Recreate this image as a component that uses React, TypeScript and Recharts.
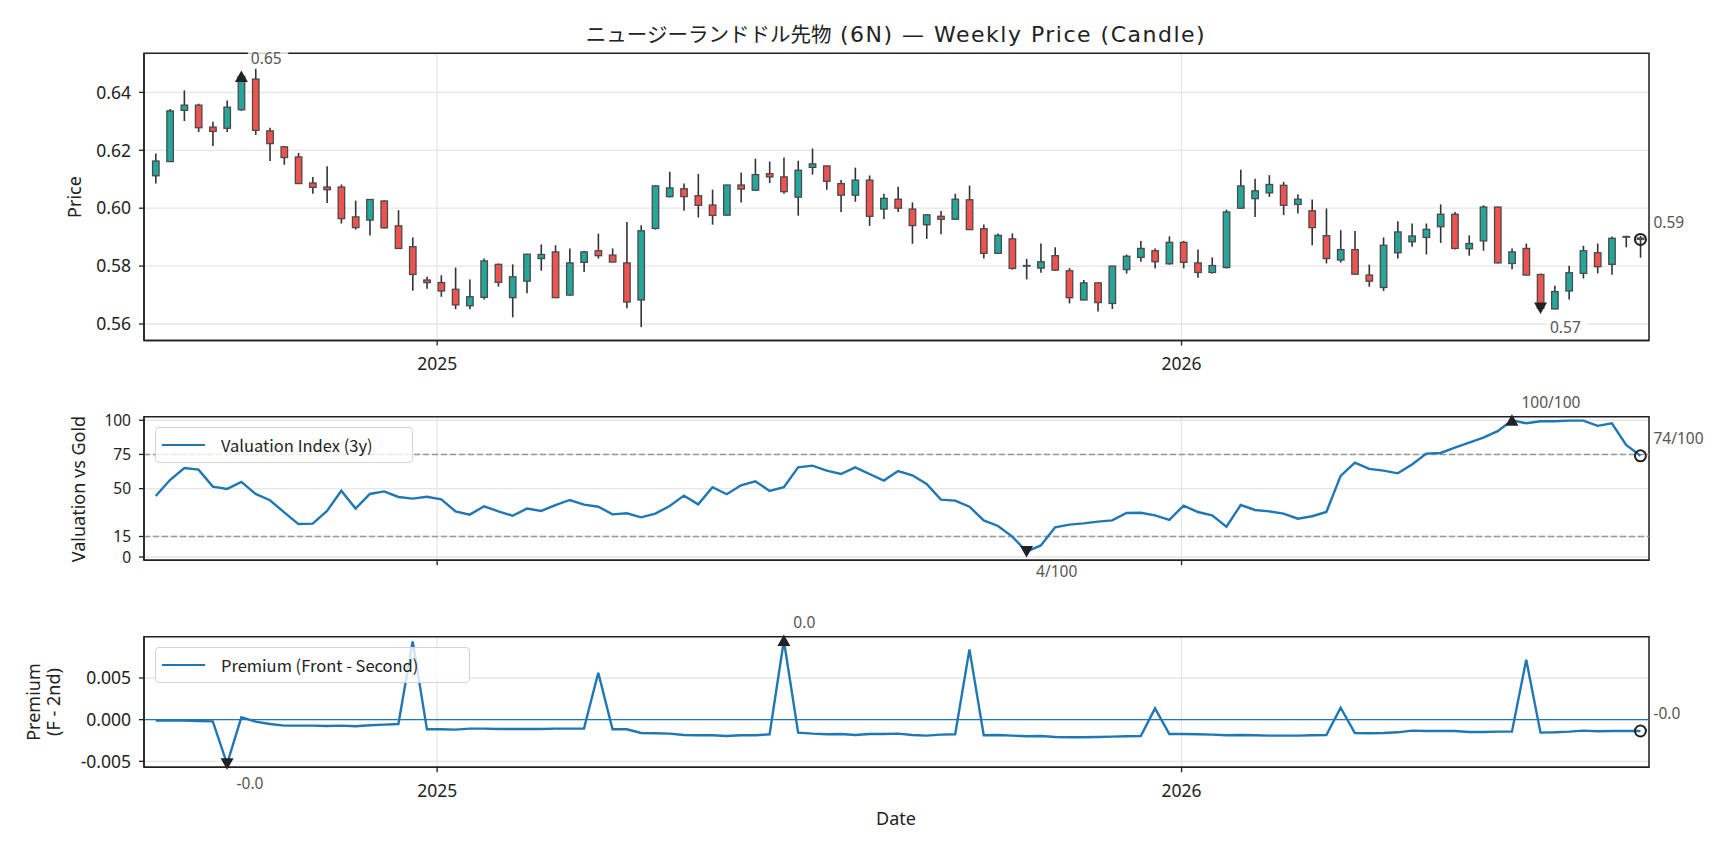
import React from "react";
import { Bar, CartesianGrid, ComposedChart, Line, ReferenceArea, ReferenceLine, Scatter, XAxis, YAxis } from "recharts";

const FONT = "'Noto Sans CJK JP', 'Noto Sans', sans-serif";
const LATIN = "'Noto Sans', 'Noto Sans CJK JP', sans-serif";
const INK = "#222";
const GRID = "#e6e6e6";
const BLUE = "#1f77b4";
const UP = "#26a69a";
const DOWN = "#ef5350";

// weekly bars, first week 2024-08-16
const START = Date.UTC(2024, 7, 16);
const WEEK = 7 * 24 * 3600 * 1000;

const opens = [
  0.6112, 0.6161, 0.6338, 0.6356, 0.628, 0.6276, 0.634, 0.6446, 0.6267, 0.6212,
  0.6177, 0.6087, 0.6073, 0.6073, 0.597, 0.5959, 0.6025, 0.5939, 0.5867, 0.5752,
  0.5743, 0.572, 0.5663, 0.5692, 0.5806, 0.5691, 0.5748, 0.5826, 0.5849, 0.57,
  0.5813, 0.5853, 0.5838, 0.5811, 0.5683, 0.593, 0.604, 0.6067, 0.6043, 0.6011,
  0.5976, 0.608, 0.6062, 0.6119, 0.6108, 0.6038, 0.6141, 0.6146, 0.6085, 0.6045,
  0.6097, 0.5997, 0.6031, 0.5997, 0.5943, 0.5972, 0.5962, 0.6029, 0.5929, 0.5844,
  0.5894, 0.5802, 0.5793, 0.5836, 0.5784, 0.5683, 0.5742, 0.5671, 0.5788, 0.583,
  0.5853, 0.5808, 0.5882, 0.5811, 0.5778, 0.5795, 0.6, 0.6033, 0.6053, 0.6079,
  0.6013, 0.5991, 0.5905, 0.5821, 0.5857, 0.5769, 0.5726, 0.5846, 0.5884, 0.5899,
  0.5936, 0.5979, 0.586, 0.5887, 0.6004, 0.5809, 0.5861, 0.5771, 0.5652, 0.5714,
  0.5775, 0.5846, 0.5806, 0.59, 0.5897,
];
const highs = [
  0.6189, 0.6343, 0.6407, 0.6361, 0.6299, 0.6372, 0.6462, 0.6482, 0.6278, 0.6214,
  0.6191, 0.6108, 0.6145, 0.6082, 0.6026, 0.6032, 0.6027, 0.5993, 0.5899, 0.5763,
  0.5768, 0.5795, 0.5754, 0.5826, 0.5809, 0.5806, 0.5843, 0.5875, 0.5872, 0.5861,
  0.5853, 0.5912, 0.5861, 0.5952, 0.5941, 0.6079, 0.6126, 0.6085, 0.6118, 0.6064,
  0.6081, 0.6123, 0.6171, 0.6161, 0.6175, 0.6164, 0.6206, 0.6147, 0.6097, 0.614,
  0.6113, 0.605, 0.6074, 0.602, 0.5978, 0.599, 0.605, 0.6078, 0.5944, 0.5913,
  0.5913, 0.5825, 0.5878, 0.5865, 0.5793, 0.5752, 0.5743, 0.5801, 0.584, 0.5887,
  0.5861, 0.5903, 0.5887, 0.5857, 0.583, 0.5995, 0.6133, 0.6102, 0.6114, 0.6091,
  0.6048, 0.603, 0.5999, 0.5924, 0.5921, 0.5805, 0.5899, 0.5955, 0.5947, 0.5947,
  0.6013, 0.5987, 0.5906, 0.601, 0.6005, 0.5861, 0.5878, 0.5774, 0.5732, 0.5801,
  0.587, 0.5878, 0.5902, 0.5905, 0.5905,
];
const lows = [
  0.6085, 0.616, 0.6301, 0.6263, 0.6215, 0.6263, 0.6336, 0.6253, 0.6163, 0.615,
  0.6085, 0.605, 0.6018, 0.5947, 0.5926, 0.5906, 0.593, 0.586, 0.5715, 0.5722,
  0.5694, 0.5651, 0.5651, 0.5685, 0.5729, 0.5623, 0.5706, 0.5784, 0.569, 0.5698,
  0.578, 0.5826, 0.5813, 0.5654, 0.5589, 0.5926, 0.6037, 0.5991, 0.5968, 0.5943,
  0.5975, 0.602, 0.6061, 0.6087, 0.605, 0.5974, 0.6116, 0.6064, 0.5987, 0.6022,
  0.5939, 0.5963, 0.5987, 0.5877, 0.5894, 0.591, 0.5959, 0.5925, 0.5826, 0.5843,
  0.5788, 0.5754, 0.5777, 0.5784, 0.5671, 0.5682, 0.5643, 0.5652, 0.5774, 0.5815,
  0.5792, 0.5805, 0.5792, 0.576, 0.5774, 0.5792, 0.5999, 0.597, 0.6039, 0.5976,
  0.5982, 0.5872, 0.5809, 0.5812, 0.5771, 0.5729, 0.5714, 0.5826, 0.5867, 0.584,
  0.588, 0.5857, 0.5836, 0.5853, 0.5809, 0.5789, 0.5768, 0.565, 0.5651, 0.5685,
  0.5757, 0.5775, 0.577, 0.5865, 0.5829,
];
const closes = [
  0.6163, 0.6336, 0.6356, 0.6278, 0.6265, 0.6349, 0.6455, 0.6269, 0.6223, 0.6175,
  0.6085, 0.6072, 0.6064, 0.5964, 0.5933, 0.603, 0.5932, 0.5861, 0.5771, 0.5743,
  0.5714, 0.5666, 0.5694, 0.5818, 0.5744, 0.5763, 0.5841, 0.584, 0.5691, 0.5811,
  0.5849, 0.5836, 0.5814, 0.5676, 0.5922, 0.6077, 0.607, 0.604, 0.601, 0.5975,
  0.608, 0.6066, 0.6116, 0.6108, 0.6057, 0.6131, 0.6153, 0.6093, 0.6045, 0.6097,
  0.5972, 0.6034, 0.6, 0.594, 0.5977, 0.5962, 0.6031, 0.5926, 0.5844, 0.5906,
  0.5792, 0.58, 0.5815, 0.5786, 0.5691, 0.5742, 0.5674, 0.58, 0.5834, 0.5861,
  0.5815, 0.5882, 0.5813, 0.5778, 0.5802, 0.5987, 0.6077, 0.606, 0.6082, 0.601,
  0.6031, 0.5933, 0.5826, 0.5857, 0.5772, 0.5748, 0.5872, 0.5918, 0.5904, 0.5927,
  0.5979, 0.5861, 0.5878, 0.6004, 0.5811, 0.5849, 0.5769, 0.5655, 0.5712, 0.5777,
  0.5853, 0.5798, 0.5896, 0.5902, 0.5892,
];

const valuation = [
  44.6, 56.3, 65.1, 63.9, 51.5, 49.8, 54.9, 46.1, 41.5, 32.7,
  24.1, 24.4, 33.7, 48.5, 35.4, 46.1, 48.0, 43.9, 42.7, 44.1,
  42.2, 33.4, 31.0, 37.1, 33.4, 30.2, 35.4, 33.7, 38.0, 41.7,
  38.3, 36.8, 31.2, 32.0, 29.0, 31.7, 37.3, 44.9, 38.5, 51.0,
  45.9, 52.4, 55.4, 48.3, 51.0, 65.6, 66.8, 63.2, 60.7, 65.6,
  60.7, 55.9, 62.9, 59.8, 53.4, 42.0, 41.2, 36.8, 26.8, 22.7,
  14.9, 4.0, 8.5, 21.7, 23.7, 24.6, 25.9, 26.8, 32.2, 32.4,
  30.4, 27.1, 37.6, 32.9, 30.5, 22.2, 38.0, 34.4, 33.4, 31.7,
  28.0, 29.8, 32.9, 59.3, 69.0, 64.4, 63.2, 61.2, 67.6, 75.6,
  76.1, 80.0, 83.7, 87.3, 92.0, 100, 97.8, 99.3, 99.3, 99.7,
  99.7, 95.9, 97.8, 82.0, 74.0,
];

const premium = [
  -0.00012, -0.00012, -0.00012, -0.00016, -0.0002, -0.0053, 0.00028, -0.00024, -0.00052, -0.00072,
  -0.00072, -0.00072, -0.00076, -0.00072, -0.0008, -0.00068, -0.0006, -0.00052, 0.0094, -0.00116,
  -0.00116, -0.0012, -0.00108, -0.00108, -0.00112, -0.00112, -0.00112, -0.00112, -0.00108, -0.00108,
  -0.00108, 0.00564, -0.00116, -0.00116, -0.0016, -0.00164, -0.00168, -0.00184, -0.00188, -0.00188,
  -0.00196, -0.00188, -0.00188, -0.00176, 0.0095, -0.00156, -0.00168, -0.00176, -0.00172, -0.00184,
  -0.00172, -0.00172, -0.00168, -0.00184, -0.00192, -0.0018, -0.00176, 0.00844, -0.00188, -0.00184,
  -0.00192, -0.002, -0.00196, -0.00208, -0.00212, -0.00212, -0.00208, -0.00204, -0.002, -0.00196,
  0.00136, -0.00172, -0.00172, -0.00176, -0.0018, -0.00188, -0.00184, -0.00188, -0.00192, -0.00192,
  -0.00192, -0.00188, -0.00184, 0.00144, -0.0016, -0.00164, -0.0016, -0.00152, -0.00132, -0.00136,
  -0.00136, -0.00136, -0.00148, -0.00148, -0.00144, -0.00144, 0.0072, -0.00156, -0.00152, -0.00144,
  -0.00132, -0.0014, -0.00136, -0.00136, -0.00136,
];

const yearTicks = [Date.UTC(2025, 0, 1), Date.UTC(2026, 0, 1)];
const priceTicks = [0.56, 0.58, 0.6, 0.62, 0.64];
const valuationTicks = [0, 15, 50, 75, 100];
const premiumTicks = [-0.005, 0, 0.005];

const weeks = closes.map((_, i) => START + i * WEEK);
const rows = weeks.map((t, i) => ({
  t,
  open: opens[i],
  high: highs[i],
  low: lows[i],
  close: closes[i],
  range: [lows[i], highs[i]],
  val: valuation[i],
  prem: premium[i],
}));

const xDomain = [START - 0.82 * WEEK, START + 104.6 * WEEK];
const priceDomain = [0.5543, 0.6535];
const valuationDomain = [-2.4, 102.6];
const premiumDomain = [-0.00572, 0.00996];

const argMax = (a: number[]) => a.reduce((b, v, i) => (v > a[b] ? i : b), 0);
const argMin = (a: number[]) => a.reduce((b, v, i) => (v < a[b] ? i : b), 0);

const marksFor = (values: number[], fmt: (v: number) => string) => {
  const hi = argMax(values);
  const lo = argMin(values);
  const last = values.length - 1;
  return [
    { t: weeks[hi], v: values[hi], kind: "max", text: fmt(values[hi]) },
    { t: weeks[lo], v: values[lo], kind: "min", text: fmt(values[lo]) },
    { t: weeks[last], v: values[last], kind: "last", text: fmt(values[last]) },
  ];
};

const priceMarks = marksFor(closes, (v) => v.toFixed(2));
const valuationMarks = marksFor(valuation, (v) => `${Math.round(v)}/100`);
const premiumMarks = marksFor(premium, (v) => v.toFixed(1));

const tickStyle = { fill: INK, fontSize: 17.5, fontFamily: LATIN };
const smallTickStyle = { fill: INK, fontSize: 15.5, fontFamily: LATIN };
const axisLine = { stroke: INK, strokeWidth: 1.5 };
const tickLine = { stroke: INK, strokeWidth: 1.3 };

function Candle(props: any) {
  const { x, y, width, height, payload } = props;
  if (!payload) return null;
  const top = Math.min(y, y + height);
  const bottom = Math.max(y, y + height);
  const span = payload.high - payload.low;
  const at = (v: number) => top + ((payload.high - v) / span) * (bottom - top);
  const bodyTop = at(Math.max(payload.open, payload.close));
  const bodyBottom = at(Math.min(payload.open, payload.close));
  const mid = x + width / 2;
  return (
    <g>
      <line x1={mid} x2={mid} y1={top} y2={bottom} stroke="#333" strokeWidth={1.6} />
      <rect
        x={x}
        y={bodyTop}
        width={width}
        height={Math.max(bodyBottom - bodyTop, 0.6)}
        fill={payload.close >= payload.open ? UP : DOWN}
        stroke="#4a4a4a"
        strokeWidth={1.3}
      />
    </g>
  );
}

function Marker(props: any) {
  const { cx, cy, payload } = props;
  if (cx == null || !payload) return null;
  const { kind, text } = payload;
  let glyph;
  if (kind === "max") {
    glyph = <path d={`M${cx - 6.5},${cy + 5.5}L${cx + 6.5},${cy + 5.5}L${cx},${cy - 6}Z`} fill={INK} />;
  } else if (kind === "min") {
    glyph = <path d={`M${cx - 6.5},${cy - 5.5}L${cx + 6.5},${cy - 5.5}L${cx},${cy + 6}Z`} fill={INK} />;
  } else {
    glyph = <circle cx={cx} cy={cy} r={5.5} fill="none" stroke={INK} strokeWidth={2} />;
  }
  const tx = cx + (kind === "last" ? 13 : 9.5);
  const ty = cy + (kind === "max" ? -18 : kind === "min" ? 20 : -17);
  const w = text.length * 8.6 + 6;
  return (
    <g>
      {glyph}
      <rect x={tx - 3} y={ty - 10} width={w} height={20} fill="#fff" fillOpacity={0.8} />
      <text x={tx} y={ty} dy="0.35em" fontSize={15.5} fill="#555" fontFamily={LATIN}>
        {text}
      </text>
    </g>
  );
}

function LegendBox({ left, top, width, label }: { left: number; top: number; width: number; label: string }) {
  return (
    <div
      style={{
        position: "absolute",
        left,
        top,
        width,
        height: 36.5,
        boxSizing: "border-box",
        border: "1.3px solid #d3d3d3",
        borderRadius: 4,
        background: "rgba(255,255,255,0.8)",
        display: "flex",
        alignItems: "center",
      }}
    >
      <div style={{ width: 43, borderTop: `2.4px solid ${BLUE}`, marginLeft: 6 }} />
      <span style={{ marginLeft: 16, fontSize: 16.5, color: INK, whiteSpace: "nowrap" }}>{label}</span>
    </div>
  );
}

const label = (text: string, x: number, y: number, size: number, rotate = false): React.ReactNode => (
  <div
    style={{
      position: "absolute",
      left: x,
      top: y,
      transform: `translate(-50%, -50%)${rotate ? " rotate(-90deg)" : ""}`,
      fontSize: size,
      fontFamily: LATIN,
      color: INK,
      whiteSpace: "nowrap",
      lineHeight: 1.2,
      textAlign: "center",
    }}
  >
    {text}
  </div>
);

const sharedX = (showLabels: boolean, height: number) => (
  <XAxis
    dataKey="t"
    type="number"
    domain={xDomain}
    ticks={yearTicks}
    interval={0}
    tickFormatter={(t: number) => (showLabels ? String(new Date(t).getUTCFullYear()) : "")}
    tick={tickStyle}
    tickSize={5}
    tickMargin={12}
    axisLine={axisLine}
    tickLine={tickLine}
    height={height}
  />
);

const frame = (domain: number[]) => (
  <ReferenceArea
    x1={xDomain[0]}
    x2={xDomain[1]}
    y1={domain[0]}
    y2={domain[1]}
    fill="none"
    fillOpacity={0}
    stroke={INK}
    strokeWidth={1.5}
    strokeOpacity={1}
    ifOverflow="visible"
  />
);

export default function App() {
  return (
    <div
      style={{
        position: "absolute",
        left: 0,
        top: 0,
        width: 1728,
        height: 849,
        background: "#fff",
        fontFamily: FONT,
        overflow: "hidden",
      }}
    >
      <div style={{ position: "absolute", left: 0, top: 0 }}>
        <ComposedChart width={1728} height={400} data={rows} margin={{ top: 53.3, right: 79, bottom: 19.5, left: 0 }}>
          <CartesianGrid stroke={GRID} strokeWidth={1.3} />
          {sharedX(true, 40)}
          <YAxis
            type="number"
            domain={priceDomain}
            ticks={priceTicks}
            interval={0}
            tickFormatter={(v: number) => v.toFixed(2)}
            tick={tickStyle}
            tickSize={5}
            tickMargin={8}
            axisLine={axisLine}
            tickLine={tickLine}
            width={144}
          />
          {frame(priceDomain)}
          <Bar dataKey="range" barSize={6.5} shape={Candle} isAnimationActive={false} />
          <Scatter data={priceMarks} dataKey="v" shape={Marker} isAnimationActive={false} />
        </ComposedChart>
      </div>

      <div style={{ position: "absolute", left: 0, top: 380 }}>
        <ComposedChart width={1728} height={220} data={rows} margin={{ top: 36.7, right: 79, bottom: 9.7, left: 0 }}>
          <CartesianGrid stroke={GRID} strokeWidth={1.3} />
          {sharedX(false, 30)}
          <YAxis
            type="number"
            domain={valuationDomain}
            ticks={valuationTicks}
            interval={0}
            tick={smallTickStyle}
            tickSize={5}
            tickMargin={8}
            axisLine={axisLine}
            tickLine={tickLine}
            width={144}
          />
          {frame(valuationDomain)}
          <ReferenceLine y={75} stroke="#999" strokeWidth={1.5} strokeDasharray="6 3" />
          <ReferenceLine y={15} stroke="#999" strokeWidth={1.5} strokeDasharray="6 3" />
          <Line dataKey="val" stroke={BLUE} strokeWidth={2.4} dot={false} isAnimationActive={false} />
          <Scatter data={valuationMarks} dataKey="v" shape={Marker} isAnimationActive={false} />
        </ComposedChart>
      </div>

      <div style={{ position: "absolute", left: 0, top: 600 }}>
        <ComposedChart width={1728} height={249} data={rows} margin={{ top: 36.7, right: 79, bottom: 41.7, left: 0 }}>
          <CartesianGrid stroke={GRID} strokeWidth={1.3} />
          {sharedX(true, 40)}
          <YAxis
            type="number"
            domain={premiumDomain}
            ticks={premiumTicks}
            interval={0}
            tickFormatter={(v: number) => v.toFixed(3)}
            tick={tickStyle}
            tickSize={5}
            tickMargin={8}
            axisLine={axisLine}
            tickLine={tickLine}
            width={144}
          />
          {frame(premiumDomain)}
          <ReferenceLine y={0} stroke={BLUE} strokeWidth={1.3} />
          <Line dataKey="prem" stroke={BLUE} strokeWidth={2.4} dot={false} isAnimationActive={false} />
          <Scatter data={premiumMarks} dataKey="v" shape={Marker} isAnimationActive={false} />
        </ComposedChart>
      </div>

      <LegendBox left={155} top={426.7} width={258} label="Valuation Index (3y)" />
      <LegendBox left={155} top={646.7} width={315} label="Premium (Front - Second)" />

      <div
        style={{
          position: "absolute",
          left: 896,
          top: 35,
          transform: "translate(-50%, -50%)",
          color: INK,
          whiteSpace: "nowrap",
          lineHeight: 1.2,
        }}
      >
        <span style={{ fontSize: 20.5 }}>ニュージーランドドル先物</span>
        <span style={{ fontSize: 22, letterSpacing: 1.5, fontFamily: "'DejaVu Sans', sans-serif" }}>
          {" "}
          (6N) — Weekly Price (Candle)
        </span>
      </div>
      {label("Price", 75, 197, 18, true)}
      {label("Valuation vs Gold", 79, 488.5, 18, true)}
      <div
        style={{
          position: "absolute",
          left: 43,
          top: 702,
          transform: "translate(-50%, -50%) rotate(-90deg)",
          fontSize: 18,
          fontFamily: LATIN,
          color: INK,
          whiteSpace: "nowrap",
          lineHeight: "20px",
          textAlign: "center",
        }}
      >
        Premium
        <br />
        (F - 2nd)
      </div>
      {label("Date", 896, 819, 18)}
    </div>
  );
}
